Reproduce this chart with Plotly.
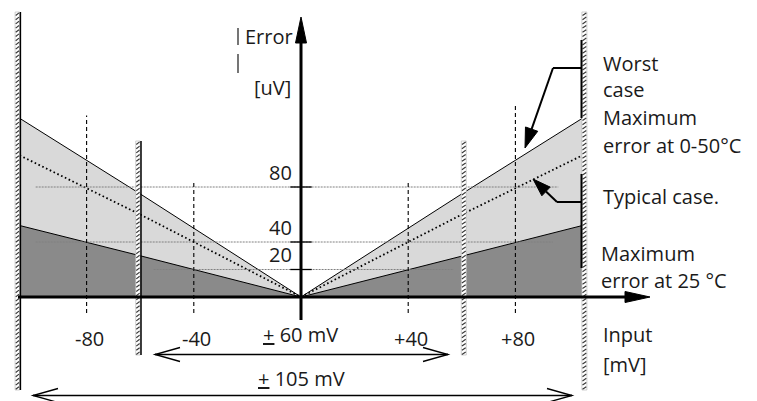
import math
import plotly.graph_objects as go

W, H = 757, 401

# ---------------- data ----------------
input_mv = [-105, -60, 0, 60, 105]
worst_uv = [130, 75, 0, 75, 130]        # worst case, max error at 0-50 C
typical_uv = [103, 60, 0, 60, 103]      # typical case
at25_uv = [52, 30, 0, 30, 52]           # max error at 25 C

x_tick_vals = [-80, -40, 40, 80]
x_tick_labels = ["-80", "-40", "+40", "+80"]
x_tick_tops = [132, 83, 83, 139]
y_tick_vals = [80, 40, 20]
y_tick_labels = ["80", "40", "20"]
grid_start = [-99, -99, -55]
grid_end = [96, 94, 57]
wall_mv = [-105, -60, 60, 105]

# ---------------- scales ----------------
X0, SX = 301.0, 2.68     # pixel of 0 mV, px per mV
Y0, SY = 297.0, 1.375    # pixel of 0 uV, px per uV
xr = [(0 - X0) / SX, (W - X0) / SX]
yr = [(Y0 - H) / SY, Y0 / SY]


def px(v):
    return X0 + v * SX


FONT = "Open Sans"
FS = 20
TXT = "#1a1a1a"

fig = go.Figure()

# fills
fig.add_trace(go.Scatter(x=input_mv, y=worst_uv, mode="lines", fill="tozeroy",
                         fillcolor="#d9d9d9", line=dict(color="black", width=1)))
fig.add_trace(go.Scatter(x=input_mv, y=at25_uv, mode="lines", fill="tozeroy",
                         fillcolor="#8a8a8a", line=dict(color="black", width=1)))
fig.add_trace(go.Scatter(x=input_mv, y=typical_uv, mode="lines",
                         line=dict(color="black", width=1.8, dash="1.6px,2.6px")))

# horizontal grid lines
for v, a, b in zip(y_tick_vals, grid_start, grid_end):
    fig.add_trace(go.Scatter(x=[a, b], y=[v, v], mode="lines",
                             line=dict(color="#808080", width=1, dash="2px,1px")))
# y ticks
for v in y_tick_vals:
    fig.add_trace(go.Scatter(x=[-4, 4], y=[v, v], mode="lines",
                             line=dict(color="black", width=1.3)))
# vertical dashed lines
for v, t in zip(x_tick_vals, x_tick_tops):
    fig.add_trace(go.Scatter(x=[v, v], y=[-11.6, t], mode="lines",
                             line=dict(color="black", width=1.1, dash="4px,3px")))

# dummy trace for pixel axes
fig.add_trace(go.Scatter(x=[0], y=[0], xaxis="x2", yaxis="y2", mode="markers",
                         marker=dict(opacity=0), hoverinfo="skip"))

shapes = []


def sline(x0, y0, x1, y1, color="black", width=1):
    shapes.append(dict(type="line", xref="x2", yref="y2", x0=x0, y0=y0, x1=x1, y1=y1,
                       line=dict(color=color, width=width)))


def spath(d, fill=None, color="black", width=1):
    shapes.append(dict(type="path", xref="x2", yref="y2", path=d,
                       fillcolor=fill if fill else "rgba(0,0,0,0)",
                       line=dict(color=color, width=width)))


def head(tx, ty, fx, fy, length, half):
    dx, dy = tx - fx, ty - fy
    L = math.hypot(dx, dy)
    ux, uy = dx / L, dy / L
    bx, by = tx - ux * length, ty - uy * length
    nx, ny = -uy, ux
    return (f"M{tx},{ty} L{bx + nx * half},{by + ny * half} "
            f"L{bx - nx * half},{by - ny * half} Z"), (bx, by)


# hatched walls
for v in wall_mv:
    xc = px(v)
    top, bot = (12, 390) if abs(v) > 100 else (141, 355)
    if v < 0:
        x0, x1 = xc - 4.5, xc
    else:
        x0, x1 = xc - 0.5, xc + 4.5
    shapes.append(dict(type="rect", xref="x2", yref="y2", x0=x0, x1=x1, y0=top, y1=bot,
                       fillcolor="white", line=dict(color="#b0b0b0", width=0.6)))
    parts = []
    y = top + 3.5
    while y <= bot:
        parts.append(f"M{x0 + 0.6},{y} L{x1 - 0.6},{y - 2.6}")
        y += 4.2
    spath(" ".join(parts), color="#3a3a3a", width=1.2)
    if v < 0:
        sline(xc + 0.8, top, xc + 0.8, bot, color="black", width=1.5)

# axes
sline(18, 297, 627, 297, width=3)
spath("M625,291.5 L650,297 L625,302.5 Z", fill="black", width=1)
sline(301, 320, 301, 41, width=3)
spath("M295.5,43 L301,17 L306.5,43 Z", fill="black", width=1)

# dimension arrows
for y, xa, xb in [(354.5, 155, 448), (395.5, 33, 572)]:
    sline(xa, y, xb, y, width=1.3)
    spath(f"M{xa + 25},{y - 7} L{xa},{y} L{xa + 25},{y + 7}", width=1.3)
    spath(f"M{xb - 25},{y - 7} L{xb},{y} L{xb - 25},{y + 7}", width=1.3)

# worst-case pointer
sline(581.5, 40, 581.5, 118, width=2)
sline(581.5, 68, 553, 68, width=2)
d, (bx, by) = head(525, 148, 553, 68, 20, 6.5)
sline(553, 68, bx, by, width=2)
spath(d, fill="black", width=1)

# typical-case pointer
sline(581.5, 174, 581.5, 268, width=2)
sline(581.5, 202, 557, 202, width=2)
d, (bx, by) = head(533, 179, 557, 202, 18, 6)
sline(557, 202, bx, by, width=2)
spath(d, fill="black", width=1)

# bars of the "| Error |" label
sline(238, 28, 238, 45, color=TXT, width=1.2)
sline(238, 54, 238, 73, color=TXT, width=1.2)

annotations = []


def txt(text, x, y, xanchor="left", xref="x2", yref="y2", xshift=0, yshift=0):
    annotations.append(dict(text=text, x=x, y=y, xref=xref, yref=yref, xanchor=xanchor,
                            yanchor="middle", showarrow=False, xshift=xshift, yshift=yshift,
                            font=dict(family=FONT, size=FS, color=TXT)))


txt("Error", 243, 36)
txt("[uV]", 252, 87)
for v, lab in zip(y_tick_vals, y_tick_labels):
    txt(lab, 294, v, xanchor="right", yref="y", yshift=15)
for v, lab in zip(x_tick_vals, x_tick_labels):
    txt(lab, v, 338, xanchor="center", xref="x", xshift=3)
txt("<u>+</u> 60 mV", 300, 334, xanchor="center")
txt("<u>+</u> 105 mV", 301, 378, xanchor="center")
txt("Input", 601, 334)
txt("[mV]", 601, 364)
txt("Worst", 601, 63)
txt("case", 601, 89)
txt("Maximum", 601, 117)
txt("error at 0-50°C", 601, 145)
txt("Typical case.", 601, 196)
txt("Maximum", 599, 253)
txt("error at 25 °C", 599, 280)

fig.update_layout(
    width=W, height=H, margin=dict(l=0, r=0, t=0, b=0),
    paper_bgcolor="white", plot_bgcolor="white", showlegend=False,
    xaxis=dict(range=xr, visible=False, fixedrange=True),
    yaxis=dict(range=yr, visible=False, fixedrange=True),
    xaxis2=dict(range=[0, W], overlaying="x", visible=False, fixedrange=True),
    yaxis2=dict(range=[H, 0], overlaying="y", visible=False, fixedrange=True),
    shapes=shapes, annotations=annotations,
)

fig.write_html("out.html", config={"displayModeBar": False},
               post_script="document.body.style.margin='0';document.body.style.overflow='hidden';")
